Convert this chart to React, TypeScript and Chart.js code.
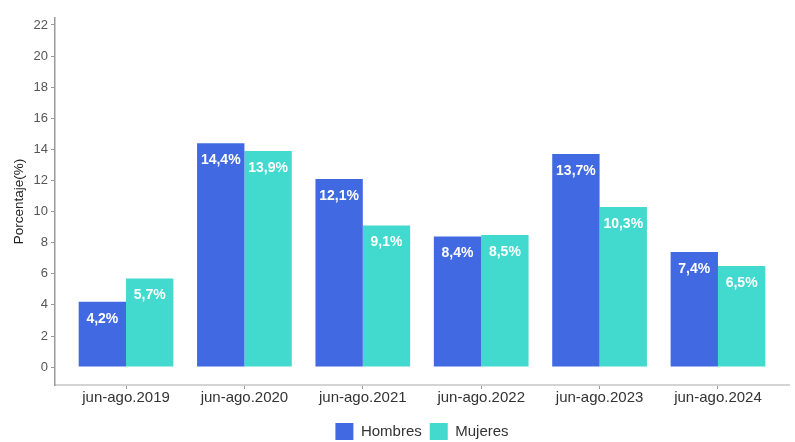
import React, { useEffect, useRef } from "react";
import { Chart, registerables } from "chart.js";

Chart.register(...registerables);

const categories = ["jun-ago.2019", "jun-ago.2020", "jun-ago.2021", "jun-ago.2022", "jun-ago.2023", "jun-ago.2024"];
const hombres = [4.2, 14.4, 12.1, 8.4, 13.7, 7.4];
const mujeres = [5.7, 13.9, 9.1, 8.5, 10.3, 6.5];
const seriesNames = ["Hombres", "Mujeres"];
const yTitle = "Porcentaje(%)";

const FONT = "'Liberation Sans', Arial, sans-serif";

const fmt = (v: number) => v.toFixed(1).replace(".", ",") + "%";

const labelPlugin = {
  id: "barLabels",
  afterDatasetsDraw(chart: any) {
    const ctx = chart.ctx;
    ctx.save();
    ctx.fillStyle = "#ffffff";
    ctx.font = `bold 14px ${FONT}`;
    ctx.textAlign = "center";
    ctx.textBaseline = "middle";
    chart.data.datasets.forEach((ds: any, di: number) => {
      const meta = chart.getDatasetMeta(di);
      meta.data.forEach((el: any, i: number) => {
        const v = ds.data[i].y;
        ctx.fillText(fmt(v), el.x, el.y + 17);
      });
    });
    ctx.restore();
  },
};

export default function App() {
  const ref = useRef<HTMLCanvasElement>(null);
  useEffect(() => {
    document.body.style.margin = "0";
    const chart = new Chart(ref.current!, {
      type: "bar",
      data: {
        datasets: [
          {
            label: seriesNames[0],
            data: hombres.map((y, i) => ({ x: i, y })),
            backgroundColor: "#4169E1",
            borderWidth: 0,
          },
          {
            label: seriesNames[1],
            data: mujeres.map((y, i) => ({ x: i, y })),
            backgroundColor: "#42D9CF",
            borderWidth: 0,
          },
        ],
      },
      options: {
        animation: false,
        responsive: false,
        maintainAspectRatio: false,
        categoryPercentage: 0.8,
        barPercentage: 1.0,
        layout: { padding: { left: 0, right: 6, top: 18, bottom: -8 } },
        scales: {
          x: {
            type: "linear",
            min: -0.6,
            max: 5.6,
            offset: false,
            afterFit: (s: any) => {
              s.height = 30;
            },
            grid: { offset: false, drawOnChartArea: false, drawTicks: true, tickLength: 4, color: "#999" },
            border: { display: true, color: "#d4d4d4", width: 2 },
            ticks: {
              stepSize: 1,
              includeBounds: false,
              autoSkip: false,
              maxRotation: 0,
              padding: 0,
              color: "#333",
              font: { family: FONT, size: 15 },
              callback: (v: any) => (Number.isInteger(v) && categories[v] ? categories[v] : ""),
            },
          },
          y: {
            min: -1.15,
            max: 22.45,
            afterFit: (s: any) => {
              s.width = 55;
            },
            grid: { drawOnChartArea: false, drawTicks: true, tickLength: 4, color: "#999" },
            border: { display: true, color: "#999", width: 1.5 },
            ticks: {
              stepSize: 2,
              includeBounds: false,
              padding: 3,
              color: "#555",
              font: { family: FONT, size: 13 },
            },
            title: {
              display: true,
              text: yTitle,
              color: "#222",
              font: { family: FONT, size: 13.5 },
              padding: { top: 11, bottom: 0 },
            },
          },
        },
        plugins: {
          legend: {
            position: "bottom",
            fullSize: false,
            labels: {
              boxWidth: 18,
              boxHeight: 17,
              padding: 8,
              color: "#333",
              font: { family: FONT, size: 15 },
            },
          },
          tooltip: { enabled: false },
        },
      },
      plugins: [labelPlugin],
    } as any);
    return () => chart.destroy();
  }, []);
  return (
    <div style={{ width: 795, height: 442 }}>
      <canvas ref={ref} width={795} height={442} style={{ display: "block" }} />
    </div>
  );
}
